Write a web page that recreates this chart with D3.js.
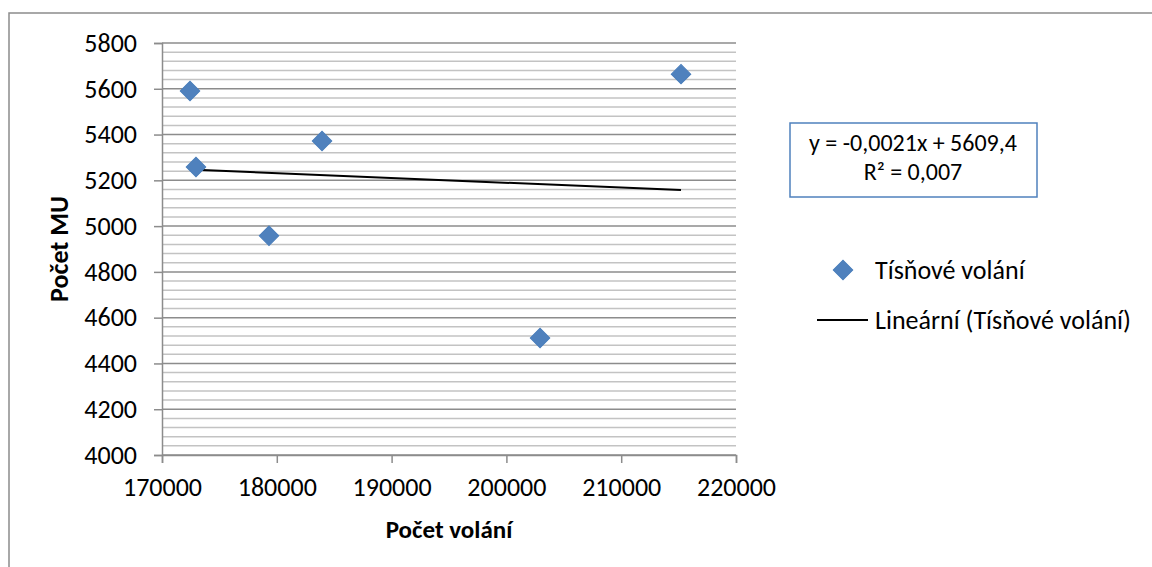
<!DOCTYPE html>
<html>
<head>
<meta charset="utf-8">
<script src="https://cdn.jsdelivr.net/npm/d3@7"></script>
<style>
  body { margin: 0; background: #fff; }
  text { font-family: Carlito, Calibri, Lato, sans-serif; fill: #000; }
</style>
</head>
<body>
<div id="graf"></div>
<script>
// donnees
const volani = [172440, 172960, 179320, 183940, 202930, 215210]; // Počet volání (x)
const pocetMU = [5590, 5258, 4958, 5372, 4511, 5664];            // Počet MU (y)
const xTicks = [170000, 180000, 190000, 200000, 210000, 220000];
const yTicks = [4000, 4200, 4400, 4600, 4800, 5000, 5200, 5400, 5600, 5800];
const trendSlope = -0.0021;
const trendIntercept = 5609.4;
const rovnice = ["y = -0,0021x + 5609,4", "R² = 0,007"];
const legendNames = ["Tísňové volání", "Lineární (Tísňové volání)"];

const W = 1152, H = 567;
const plot = {left: 162, right: 736, top: 43, bottom: 455};
const modra = '#4f81bd';

const svg = d3.select("#graf").append("svg")
  .attr("width", W).attr("height", H);

// ramecek
svg.append("rect")
  .attr("x", 9).attr("y", 13).attr("width", 1200).attr("height", 600)
  .attr("fill", "none").attr("stroke", "#8c8c8c").attr("stroke-width", 1.5);

const x = d3.scaleLinear().domain([170000, 220000]).range([plot.left, plot.right]);
const y = d3.scaleLinear().domain([4000, 5800]).range([plot.bottom, plot.top]);

// mrizka - vedlejsi (po 40) a hlavni
svg.append("g").selectAll("line")
  .data(d3.range(4000, 5801, 40).filter(v => !yTicks.includes(v)))
  .join("line")
  .attr("x1", plot.left).attr("x2", plot.right)
  .attr("y1", d => y(d)).attr("y2", d => y(d))
  .attr("stroke", "#c3c3c3").attr("stroke-width", 1.5);

svg.append("g").selectAll("line")
  .data(yTicks)
  .join("line")
  .attr("x1", plot.left).attr("x2", plot.right)
  .attr("y1", d => y(d)).attr("y2", d => y(d))
  .attr("stroke", "#8c8c8c").attr("stroke-width", 1.5);

// osa Y
const osaY = svg.append("g")
  .attr("transform", `translate(${plot.left},0)`)
  .call(d3.axisLeft(y).tickValues(yTicks).tickSize(8).tickPadding(17).tickFormat(d3.format("d")));
osaY.select(".domain").attr("stroke", "#8c8c8c").attr("stroke-width", 1.5);
osaY.selectAll(".tick line").attr("stroke", "#8c8c8c").attr("stroke-width", 1.5);
osaY.selectAll("text").style("font-size", "26px");

// osa X
const osaX = svg.append("g")
  .attr("transform", `translate(0,${plot.bottom})`)
  .call(d3.axisBottom(x).tickValues(xTicks).tickSize(8).tickPadding(15).tickFormat(d3.format("d")));
osaX.select(".domain").attr("stroke", "#8c8c8c").attr("stroke-width", 1.5);
osaX.selectAll(".tick line").attr("stroke", "#8c8c8c").attr("stroke-width", 1.5);
osaX.selectAll("text").style("font-size", "26px");

// popisky os
svg.append("text")
  .attr("x", (plot.left + plot.right) / 2).attr("y", 538)
  .attr("text-anchor", "middle")
  .style("font-size", "25px").style("font-weight", "bold")
  .text("Počet volání");

svg.append("text")
  .attr("transform", `translate(68,${(plot.top + plot.bottom) / 2}) rotate(-90)`)
  .attr("text-anchor", "middle")
  .style("font-size", "26px").style("font-weight", "bold")
  .text("Počet MU");

// trend
const xMin = d3.min(volani), xMax = d3.max(volani);
svg.append("line")
  .attr("x1", x(xMin)).attr("y1", y(trendSlope * xMin + trendIntercept))
  .attr("x2", x(xMax)).attr("y2", y(trendSlope * xMax + trendIntercept))
  .attr("stroke", "#000").attr("stroke-width", 2);

// body
const diamant = d3.symbol().type(d3.symbolSquare).size(190);
svg.append("g").selectAll("path")
  .data(volani.map((v, i) => [v, pocetMU[i]]))
  .join("path")
  .attr("d", diamant)
  .attr("transform", d => `translate(${x(d[0])},${y(d[1])}) rotate(45)`)
  .attr("fill", modra).attr("stroke", "#4a7ebb").attr("stroke-width", 1);

// rovnice v ramecku
svg.append("rect")
  .attr("x", 790).attr("y", 123).attr("width", 247).attr("height", 74)
  .attr("fill", "#fff").attr("stroke", modra).attr("stroke-width", 1.5);
svg.append("g").selectAll("text")
  .data(rovnice)
  .join("text")
  .attr("x", 913).attr("y", (d, i) => 151 + i * 29)
  .attr("text-anchor", "middle")
  .style("font-size", "24px")
  .text(d => d);

// legenda
const leg = svg.append("g");
leg.append("path")
  .attr("d", diamant)
  .attr("transform", "translate(843,270) rotate(45)")
  .attr("fill", modra).attr("stroke", "#4a7ebb");
leg.append("line")
  .attr("x1", 817).attr("x2", 868).attr("y1", 320).attr("y2", 320)
  .attr("stroke", "#000").attr("stroke-width", 2);
leg.selectAll("text")
  .data(legendNames)
  .join("text")
  .attr("x", 875).attr("y", (d, i) => 279 + i * 50)
  .style("font-size", "26px")
  .text(d => d);
</script>
</body>
</html>
